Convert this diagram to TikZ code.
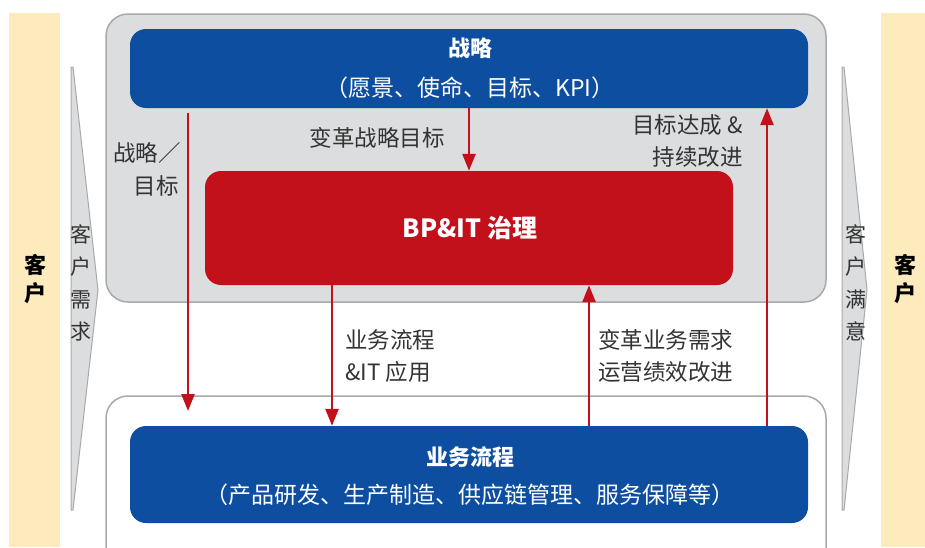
\documentclass[tikz,border=0pt]{standalone}
\usepackage{fontspec}
\setmainfont{Noto Sans CJK SC}
\usetikzlibrary{arrows.meta}
\definecolor{bblue}{HTML}{0D4EA0}
\definecolor{rred}{HTML}{C3111B}
\definecolor{gfill}{HTML}{DCDDDF}
\definecolor{gline}{HTML}{A8A9AB}
\definecolor{beige}{HTML}{FDEBBE}
\definecolor{tgray}{HTML}{333333}
\tikzset{
  bluebox/.style={fill=bblue, draw=none, rounded corners=16pt, minimum width=678pt, inner sep=0pt},
  redbox/.style={fill=rred, draw=none, rounded corners=16pt, minimum width=528pt, minimum height=114pt, inner sep=0pt},
  panel/.style={draw=gline, line width=1.5pt, rounded corners=22pt},
  arr/.style={draw=rred, line width=2.6pt, -{Triangle[width=13pt,length=17pt]}},
  lbl/.style={text=tgray, font=\fontsize{22.5}{30}\selectfont, inner sep=0pt},
  title/.style={text=white, font=\fontsize{22}{24}\selectfont\bfseries, inner sep=0pt},
  sub/.style={text=white, font=\fontsize{23}{26}\selectfont, inner sep=0pt},
  side/.style={text=tgray, font=\fontsize{21}{32.5}\selectfont, inner sep=0pt, align=center},
  cust/.style={text=black, font=\fontsize{22}{28}\selectfont\bfseries, inner sep=0pt, align=center},
}
\begin{document}
\begin{tikzpicture}[x=1pt,y=-1pt]
\useasboundingbox (0,0) rectangle (925,547);
\fill[white] (0,0) rectangle (925,547);
% customer bars
\fill[beige] (9,13) rectangle (60,547);
\fill[beige] (881,13) rectangle (925,547);
\node[cust] (custL) at (35,279) {客\\户};
\node[cust] (custR) at (905,279) {客\\户};
% side arrows
\draw[gline, fill=gfill, line width=1pt] (71,67) -- (73,67) -- (98,290) -- (73,510) -- (71,510) -- cycle;
\draw[gline, fill=gfill, line width=1pt] (842,67) -- (844,67) -- (867,290) -- (844,510) -- (842,510) -- cycle;
\node[side] (needs) at (81,283) {客\\户\\需\\求};
\node[side] (satis) at (856,283) {客\\户\\满\\意};
% panels
\draw[panel, fill=gfill] (106,14) rectangle (826,302);
\draw[panel, fill=white] (106,396) rectangle (826,575);
% boxes
\node[bluebox, minimum height=79pt] (strat) at (469,68.5) {};
\node[title] (stratT) at (470,48) {战略};
\node[sub] (stratS) at (470,88) {（愿景、使命、目标、KPI）};
\node[redbox] (gov) at (469,228) {};
\node[title, font=\fontsize{25}{28}\selectfont\bfseries] (govT) at (470,228) {BP\&IT 治理};
\node[bluebox, minimum height=97pt] (bp) at (469,474.5) {};
\node[title] (bpT) at (470,457) {业务流程};
\node[sub] (bpS) at (470,495) {（产品研发、生产制造、供应链管理、服务保障等）};
% connectors
\coordinate (lstart) at (188,113);
\coordinate (lend) at (188,411);
\draw[arr] (lstart) -- (lend);
\draw[arr] (strat.south) -- (gov.north);
\draw[arr] ([xshift=-137pt]gov.south) -- ([xshift=-137pt]bp.north);
\draw[arr] ([xshift=120pt]bp.north) -- ([xshift=120pt]gov.south);
\draw[arr] ([xshift=298pt]bp.north) -- ([xshift=298pt]strat.south);
% labels
\node[lbl, anchor=east] (l1) at (181,153) {战略／};
\node[lbl, anchor=east] (l2) at (179,186) {目标};
\node[lbl] (l3) at (377,138) {变革战略目标};
\node[lbl, anchor=east] (l4) at (743,125) {目标达成 \&};
\node[lbl, anchor=east] (l5) at (743,157) {持续改进};
\node[lbl, anchor=west] (l6) at (345,340) {业务流程};
\node[lbl, anchor=west] (l7) at (345,372) {\&IT 应用};
\node[lbl, anchor=west] (l8) at (598,340) {变革业务需求};
\node[lbl, anchor=west] (l9) at (598,372) {运营绩效改进};
\end{tikzpicture}
\end{document}
